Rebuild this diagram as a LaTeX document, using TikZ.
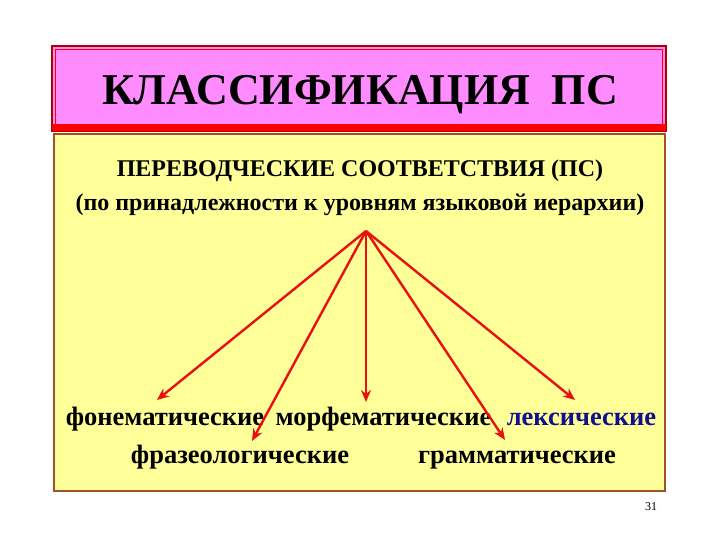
\documentclass[tikz,border=0pt]{standalone}
\usepackage{fontspec}
\setmainfont{Liberation Serif}
\usetikzlibrary{arrows.meta}
\definecolor{pinkfill}{HTML}{FF8CFF}
\definecolor{yellowfill}{HTML}{FFFF99}
\definecolor{darkred}{HTML}{B00000}
\definecolor{boxbrown}{HTML}{A0522D}
\definecolor{arrowred}{HTML}{E81010}
\definecolor{lexblue}{HTML}{10108C}
\tikzset{
  conn/.style={draw=arrowred, line width=2.4pt, -{Stealth[length=12pt,width=10pt]}},
  word/.style={font=\bfseries\fontsize{26.5}{30}\selectfont, inner sep=0pt, anchor=base},
  sub/.style={font=\bfseries\fontsize{24}{28}\selectfont, inner sep=0pt},
}
\begin{document}
\begin{tikzpicture}[x=1pt,y=-1pt]
\useasboundingbox (0,0) rectangle (720,540);
% title box
\fill[pinkfill] (52,46) rectangle (666,131);
\draw[darkred, line width=1.2pt] (52,46) rectangle (666,131);
\draw[red, line width=0.8pt] (55.5,49.5) rectangle (662.5,125);
\fill[red] (52,124) rectangle (666,131);
\node[font=\bfseries\fontsize{44}{50}\selectfont, inner sep=0pt, anchor=base] (title) at (360,105) {КЛАССИФИКАЦИЯ\ \ ПС};
% main box
\draw[boxbrown, fill=yellowfill, line width=1.3pt] (54,134) rectangle (665,491);
\node[sub] (sub1) at (360,171) {ПЕРЕВОДЧЕСКИЕ СООТВЕТСТВИЯ (ПС)};
\node[sub] (sub2) at (360,205) {(по принадлежности к уровням языковой иерархии)};
\coordinate (apex) at (366,231);
% words
\node[word] (fon) at (165,425) {фонематические};
\node[word] (morf) at (383.5,425) {морфематические};
\node[word] (lex) at (581.5,425) {\color{lexblue}лексические};
\node[word] (fraz) at (240,463) {фразеологические};
\node[word] (gram) at (517,463) {грамматические};
% arrow ends
\coordinate (efon) at (157,400);
\coordinate (efraz) at (252,441);
\coordinate (emorf) at (366,402);
\coordinate (egram) at (505,440);
\coordinate (elex) at (575,400);
\draw[conn] (apex) -- (efon);
\draw[conn] (apex) -- (efraz);
\draw[conn] (apex) -- (emorf);
\draw[conn] (apex) -- (egram);
\draw[conn] (apex) -- (elex);
\node[font=\fontsize{12}{14}\selectfont, inner sep=0pt] (num) at (651,507) {31};
\end{tikzpicture}
\end{document}
